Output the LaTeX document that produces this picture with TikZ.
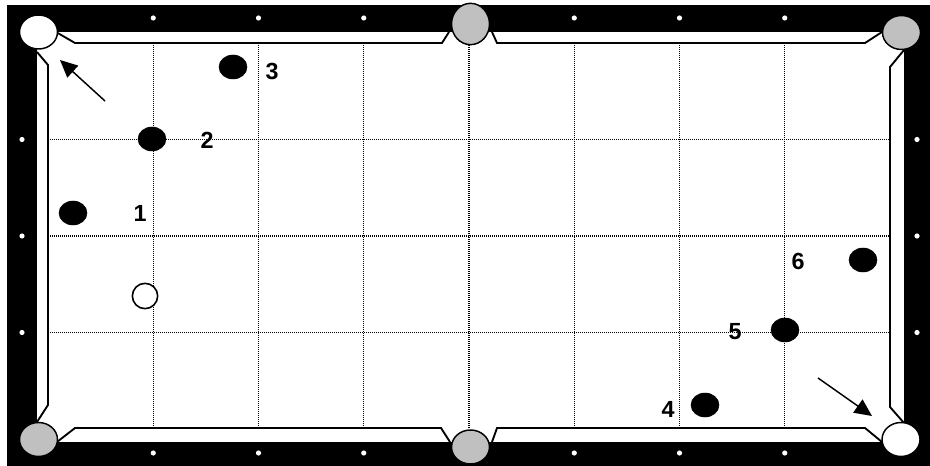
\documentclass[tikz,border=0pt]{standalone}
\usepackage{fontspec}
\setmainfont{Liberation Sans}
\usetikzlibrary{shapes.geometric,arrows.meta}
\definecolor{pocketgrey}{HTML}{C0C0C0}
\tikzset{
  ball/.style={ellipse, draw=black, fill=black, line width=0.4pt, minimum width=21pt, minimum height=18pt, inner sep=0pt},
  cueball/.style={ellipse, draw=black, fill=white, line width=1.2pt, minimum width=19pt, minimum height=19pt, inner sep=0pt},
  pocketw/.style={ellipse, draw=black, fill=white, line width=1.1pt, minimum width=28.5pt, minimum height=25.5pt, inner sep=0pt},
  pocketg/.style={pocketw, fill=pocketgrey},
  diam/.style={circle, fill=white, minimum size=3.9pt, inner sep=0pt},
  lbl/.style={font=\bfseries\fontsize{17.5}{17.5}\selectfont, inner sep=0pt},
  gridline/.style={line width=0.85pt, dash pattern=on 0.75pt off 0.75pt},
  rail/.style={line width=1.4pt, line join=miter},
  shot/.style={line width=1.1pt, -{Triangle[length=13pt,width=12pt]}}
}
\begin{document}
\begin{tikzpicture}[x=0.75pt,y=-0.75pt]
\useasboundingbox (0,0) rectangle (930,466);
% frame
\fill[black] (7,5) rectangle (930,466);
\fill[white] (37,32) rectangle (904,442);
% grid
\foreach \k in {1,...,7} {
  \draw[gridline] ({48+105.25*\k},43) -- ({48+105.25*\k},429);
}
\foreach \k in {1,2,3} {
  \draw[gridline] (48,{43+96.5*\k}) -- (890,{43+96.5*\k});
}
% cushions
\draw[rail] (56,32) -- (75,43) -- (442,43) -- (449,32);
\draw[rail] (492,32) -- (497,43) -- (865,43) -- (882,32);
\draw[rail] (904,50) -- (890,67) -- (890,407) -- (904,423);
\draw[rail] (882,442) -- (865,428) -- (497,428) -- (492,442);
\draw[rail] (450,442) -- (441,428) -- (75,428) -- (57,442);
\draw[rail] (37,422) -- (48,405) -- (48,65) -- (37,52);
% pockets
\node[pocketw] (ptl) at (38.5,32) {};
\node[pocketg, minimum height=31pt] (ptm) at (470.5,24) {};
\node[pocketg] (ptr) at (901.5,32.5) {};
\node[pocketg] (pbl) at (38.5,439.5) {};
\node[pocketg] (pbm) at (470.5,447) {};
\node[pocketw] (pbr) at (901,439.5) {};
% diamonds
\foreach \x [count=\i] in {153.25,258.5,363.75,574.25,679.5,784.75} {
  \node[diam] (dt\i) at (\x,18) {};
  \node[diam] (db\i) at (\x,453) {};
}
\foreach \y [count=\i] in {139.5,236,332.5} {
  \node[diam] (dl\i) at (22,\y) {};
  \node[diam] (dr\i) at (917,\y) {};
}
% balls
\node[ball] (b1) at (73,213) {};
\node[ball] (b2) at (152,139) {};
\node[ball] (b3) at (233,67) {};
\node[ball] (b4) at (705,405) {};
\node[ball] (b5) at (785,330) {};
\node[ball] (b6) at (863,260) {};
\node[cueball] (cue) at (145,296) {};
% labels
\node[lbl] (l1) at (140,213) {1};
\node[lbl] (l2) at (207,140) {2};
\node[lbl] (l3) at (272,71) {3};
\node[lbl] (l4) at (668,409) {4};
\node[lbl] (l5) at (735,332) {5};
\node[lbl] (l6) at (798,261) {6};
% arrows
\coordinate (a1s) at (105,101);
\coordinate (a1e) at (60,60);
\coordinate (a2s) at (818,378);
\coordinate (a2e) at (872,416);
\draw[shot] (a1s) -- (a1e);
\draw[shot] (a2s) -- (a2e);
\end{tikzpicture}
\end{document}
